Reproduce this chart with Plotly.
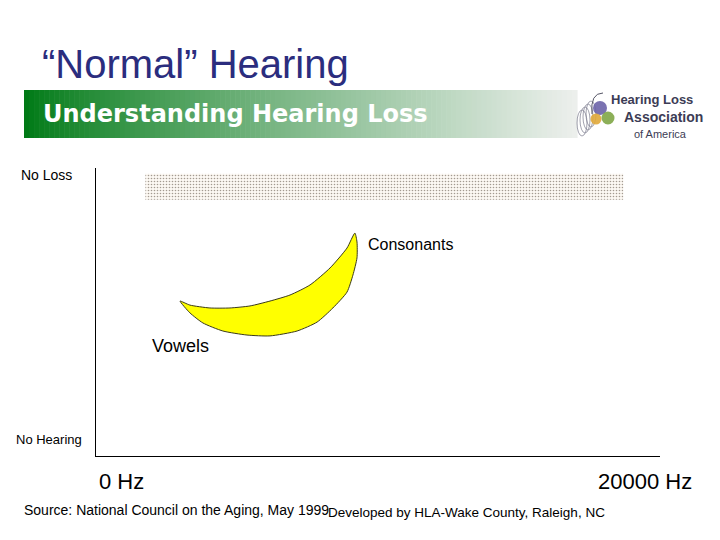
import plotly.graph_objects as go

# ---- data (frequency in Hz, hearing level 0 = no hearing, 100 = no loss) ----
freq_range = [0, 20000]
level_range = [0, 100]

normal_band_freq = [1750, 18700]
normal_band_level = [89, 98]

banana_freq = [2980, 3330, 4040, 4750, 5460, 6170, 6880, 7590, 8300, 8900, 9180,
               9255, 9255, 9110, 8900, 8400, 7840, 7130, 6170, 5355, 4500, 3790, 3330, 2980]
banana_level = [53.8, 52.4, 51.4, 51.4, 52.1, 53.8, 55.9, 59.4, 65.3, 72.2, 77.4,
                74.3, 68.8, 62.8, 56.9, 51.4, 46.5, 43.4, 41.7, 42.0, 43.4, 46.2, 49.7, 53.8]

x_tick_labels = ["0 Hz", "20000 Hz"]
y_tick_labels = ["No Loss", "No Hearing"]

W, H = 720, 540
def px(x):
    return x / W
def py(y):
    return 1 - y / H

fig = go.Figure()

# normal hearing band (dotted)
bx0, bx1 = normal_band_freq
by0, by1 = normal_band_level
fig.add_trace(go.Scatter(
    x=[bx0, bx1, bx1, bx0, bx0], y=[by0, by0, by1, by1, by0],
    mode="lines", fill="toself", line=dict(width=0, color="rgba(0,0,0,0)"),
    fillcolor="#fcf8f3",
    fillpattern=dict(shape=".", fgcolor="#4a3c30", bgcolor="#fcf8f3", size=3, solidity=0.22),
    hoverinfo="skip", showlegend=False))

# speech banana
fig.add_trace(go.Scatter(
    x=banana_freq, y=banana_level, mode="lines", fill="toself",
    fillcolor="#ffff00", line=dict(color="#3a3a1a", width=1, shape="spline", smoothing=0.6),
    hoverinfo="skip", showlegend=False))

fig.update_xaxes(range=freq_range, domain=[96 / W, 660 / W], showline=True, linecolor="black",
                 linewidth=1.3, showgrid=False, zeroline=False, showticklabels=False, ticks="")
fig.update_yaxes(range=level_range, domain=[84 / H, 372 / H], showline=True, linecolor="black",
                 linewidth=1.3, showgrid=False, zeroline=False, showticklabels=False, ticks="")

shapes = []
# banner gradient
x0, x1, yt, yb = 24, 577, 90, 138
n = 110
c0 = (0, 122, 22)
c1 = (236, 239, 236)
for i in range(n):
    t = i / (n - 1)
    tt = t ** 0.85
    c = tuple(int(round(c0[k] + (c1[k] - c0[k]) * tt)) for k in range(3))
    sx0 = x0 + (x1 - x0) * i / n
    sx1 = x0 + (x1 - x0) * (i + 1) / n + 0.6
    shapes.append(dict(type="rect", xref="paper", yref="paper", x0=px(sx0), x1=px(sx1),
                       y0=py(yb), y1=py(yt), fillcolor="rgb(%d,%d,%d)" % c, line=dict(width=0),
                       layer="below"))

# logo shapes (approximate)
def circ(cx, cy, r, color):
    return dict(type="circle", xref="paper", yref="paper", x0=px(cx - r), x1=px(cx + r),
                y0=py(cy + r), y1=py(cy - r), fillcolor=color, line=dict(width=0), opacity=0.9)
for k in range(4):
    shapes.append(dict(type="circle", xref="paper", yref="paper",
                       x0=px(577 + k * 3), x1=px(587 + k * 3), y0=py(136 - k * 3), y1=py(110 - k * 3),
                       fillcolor="rgba(0,0,0,0)", line=dict(color="#8a8a9a", width=0.8)))
shapes.append(dict(type="path", xref="paper", yref="paper",
                   path="M %f %f Q %f %f %f %f" % (px(592), py(114), px(590), py(93), px(603), py(93)),
                   line=dict(color="#555566", width=1)))
shapes.append(circ(600, 108, 7, "#6b63a8"))
shapes.append(circ(608, 118, 6.5, "#7fa646"))
shapes.append(circ(596, 119, 5.5, "#e0a83a"))

fig.update_layout(shapes=shapes)

ann = []
def text(t, x, y, size, color="black", family="Liberation Sans", xanchor="left", bold=False):
    ann.append(dict(text=("<b>%s</b>" % t) if bold else t, x=px(x), y=py(y), xref="paper", yref="paper",
                    showarrow=False, xanchor=xanchor, yanchor="middle",
                    font=dict(size=size, color=color, family=family)))

text("“Normal” Hearing", 40, 64, 40, color="#2b2d7e")
text("Understanding Hearing Loss", 41, 114, 24, color="white", family="DejaVu Sans", bold=True)
text("Hearing Loss", 609, 99, 13, color="#3c3c55", family="Liberation Sans", bold=True)
text("Association", 622, 117, 14, color="#3c3c55", family="Liberation Sans", bold=True)
text("of America", 632, 134, 11, color="#3c3c55")

text(y_tick_labels[0], 74, 175, 14, xanchor="right")
text(y_tick_labels[1], 84, 439, 13, xanchor="right")
text(x_tick_labels[0], 97, 481, 22)
text(x_tick_labels[1], 694, 481, 22, xanchor="right")

text("Consonants", 366, 244, 16)
text("Vowels", 150, 346, 18)

text("Source: National Council on the Aging, May 1999", 22, 510, 14)
text("Developed by HLA-Wake County, Raleigh, NC", 326, 512, 13.5)

fig.update_layout(annotations=ann, width=W, height=H, margin=dict(l=0, r=0, t=0, b=0),
                  paper_bgcolor="white", plot_bgcolor="white", showlegend=False)

fig.write_html("out.html", config={"displayModeBar": False, "staticPlot": True},
               post_script="document.body.style.margin='0';")
